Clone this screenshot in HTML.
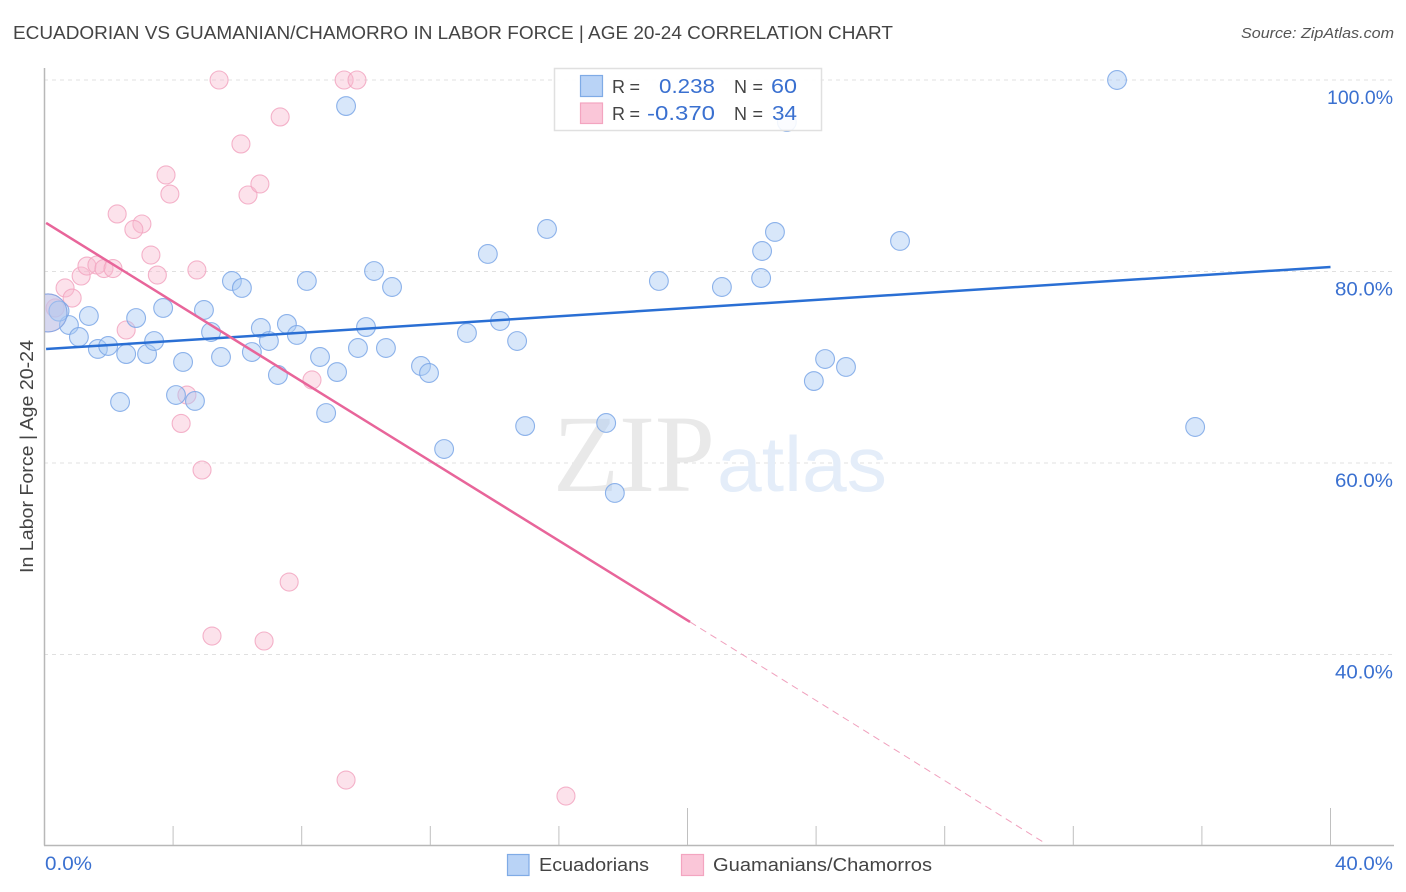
<!DOCTYPE html>
<html lang="en">
<head>
<meta charset="utf-8">
<title>Ecuadorian vs Guamanian/Chamorro in Labor Force | Age 20-24 Correlation Chart</title>
<style>
html,body{margin:0;padding:0;background:#fff;}
svg{display:block;font-family:"Liberation Sans",sans-serif;}
</style>
</head>
<body>
<svg id="chart" xmlns="http://www.w3.org/2000/svg" width="1406" height="892" viewBox="0 0 1406 892">
  <defs><clipPath id="plot-clip"><rect x="45" y="60" width="1350" height="785"/></clipPath></defs>
  <text x="13" y="39" font-size="18.5" fill="#444" textLength="880" lengthAdjust="spacingAndGlyphs">ECUADORIAN VS GUAMANIAN/CHAMORRO IN LABOR FORCE | AGE 20-24 CORRELATION CHART</text>
  <text x="1394" y="38" font-size="15" font-style="italic" fill="#555" text-anchor="end" textLength="153" lengthAdjust="spacingAndGlyphs">Source: ZipAtlas.com</text>
  <g id="grid"></g>
  <g>
    <text x="553" y="491" font-family="'Liberation Serif',serif" font-size="110" fill="#e9e9e9" textLength="162" lengthAdjust="spacingAndGlyphs">ZIP</text>
    <text x="717" y="491" font-size="78" fill="#e4edf9" textLength="170" lengthAdjust="spacingAndGlyphs">atlas</text>
  </g>
  <g id="axes">
    <line x1="44.5" y1="68" x2="44.5" y2="845.5" stroke="#b8b8b8" stroke-width="1.5"/>
    <line x1="44" y1="845.5" x2="1394" y2="845.5" stroke="#b8b8b8" stroke-width="1.5"/>
  </g>
  <g id="points" clip-path="url(#plot-clip)"></g>
  <g id="trends"></g>
  <g>
    <rect x="554.5" y="68.5" width="267" height="62" fill="#fff" fill-opacity="0.88" stroke="#e0e0e0" stroke-width="1.5"/>
    <rect x="580.5" y="75.5" width="22" height="21" fill="#b9d3f6" stroke="#7fabe6" stroke-width="1.2"/>
    <rect x="580.5" y="103" width="22" height="20.5" fill="#fac6d8" stroke="#f3a5c0" stroke-width="1.2"/>
    <text x="612" y="93" font-size="18" fill="#444" textLength="28">R =</text>
    <text x="715" y="93" font-size="20.5" fill="#3a70d0" text-anchor="end" textLength="56" lengthAdjust="spacingAndGlyphs">0.238</text>
    <text x="734" y="93" font-size="18" fill="#444" textLength="29">N =</text>
    <text x="797" y="93" font-size="20.5" fill="#3a70d0" text-anchor="end" textLength="26" lengthAdjust="spacingAndGlyphs">60</text>
    <text x="612" y="120" font-size="18" fill="#444" textLength="28">R =</text>
    <text x="715" y="120" font-size="20.5" fill="#3a70d0" text-anchor="end" textLength="68" lengthAdjust="spacingAndGlyphs">-0.370</text>
    <text x="734" y="120" font-size="18" fill="#444" textLength="29">N =</text>
    <text x="797" y="120" font-size="20.5" fill="#3a70d0" text-anchor="end" textLength="25" lengthAdjust="spacingAndGlyphs">34</text>
  </g>
  <text transform="translate(33,573) rotate(-90)" font-size="18.5" fill="#444" textLength="233" lengthAdjust="spacingAndGlyphs">In Labor Force | Age 20-24</text>
  <g id="labels"></g>
  <g>
    <rect x="507.5" y="854.5" width="21.5" height="21" fill="#b9d3f6" stroke="#7fabe6" stroke-width="1.2"/>
    <text x="539" y="871" font-size="18.5" fill="#444" textLength="110" lengthAdjust="spacingAndGlyphs">Ecuadorians</text>
    <rect x="681.5" y="854.5" width="22" height="21" fill="#fac6d8" stroke="#f3a5c0" stroke-width="1.2"/>
    <text x="713" y="871" font-size="18.5" fill="#444" textLength="219" lengthAdjust="spacingAndGlyphs">Guamanians/Chamorros</text>
  </g>
</svg>
<script>
const xTickValues = [0, 4, 8, 12, 16, 20, 24, 28, 32, 36, 40];
const xMajorTicks = [20, 40];
const xEndLabels = ['0.0%', '40.0%'];
const yTickValues = [100, 80, 60, 40];
const yTickLabels = ['100.0%', '80.0%', '60.0%', '40.0%'];

const ecuadorianX = [9.38,33.36,23.09,15.63,13.79,22.72,22.32,26.61,10.25,10.81,8.16,5.83,6.14,19.11,21.07,22.29,3.69,4.96,2.85,1.38,0.76,1.07,1.66,1.98,2.54,3.19,3.41,4.31,5.18,5.49,6.45,6.73,6.98,7.54,7.85,8.57,9.10,7.26,10.00,9.75,10.62,11.71,11.96,13.14,14.17,14.70,4.09,4.68,2.35,8.76,12.43,14.95,17.47,17.74,23.93,24.28,24.93,35.79,0.45,0.11];
const ecuadorianY = [97.28,100,95.61,84.44,81.83,84.13,82.14,83.19,80.05,78.38,79.01,79.01,78.28,79.01,78.38,79.32,76.19,75.98,75.14,75.35,74.41,73.16,71.91,72.22,71.38,71.38,72.74,70.55,73.68,71.07,71.59,74.10,72.74,74.52,73.37,71.07,69.50,69.19,74.20,72.01,72.01,70.13,69.40,73.58,74.83,72.74,67.10,66.48,66.37,65.22,61.46,63.86,64.18,56.87,68.56,70.86,70.03,63.76,75.87,75.67];
const ecuadorianSize = [9.4,9.4,9.4,9.4,9.4,9.4,9.4,9.4,9.4,9.4,9.4,9.4,9.4,9.4,9.4,9.4,9.4,9.4,9.4,9.4,9.4,9.4,9.4,9.4,9.4,9.4,9.4,9.4,9.4,9.4,9.4,9.4,9.4,9.4,9.4,9.4,9.4,9.4,9.4,9.4,9.4,9.4,9.4,9.4,9.4,9.4,9.4,9.4,9.4,9.4,9.4,9.4,9.4,9.4,9.4,9.4,9.4,9.4,10,19];

const guamanianX = [5.43,9.32,9.72,7.33,6.11,3.78,3.90,6.33,6.70,2.26,3.03,2.78,3.31,3.51,4.74,1.14,1.32,1.63,1.85,2.13,0.64,0.86,2.54,8.32,4.43,4.25,4.90,7.61,5.21,6.83,9.38,16.22,0.33,0.11];
const guamanianY = [100,100,100,96.14,93.32,90.08,88.09,87.99,89.14,86.01,84.96,84.39,81.72,79.63,80.16,79.53,80.57,80.68,80.31,80.31,78.28,77.23,73.89,68.67,67.10,64.13,59.27,47.57,41.93,41.41,26.89,25.22,76.19,75.67];
const guamanianSize = [9,9,9,9,9,9,9,9,9,9,9,9,9,9,9,9,9,9,9,9,9,9,9,9,9,9,9,9,9,9,9,9,9,19];

const ecuadorianTrendX = [0.05, 40];
const ecuadorianTrendY = [71.9, 80.47];
const guamanianTrendX = [0.05, 20.08];
const guamanianTrendY = [85.07, 43.4];
const guamanianDashX = [20.08, 31.06];
const guamanianDashY = [43.4, 20.42];

const xScale = v => 44.5 + v * 32.15;
const yScale = v => 80 + (100 - v) * 9.575;
const NS = 'http://www.w3.org/2000/svg';

function make(tag, parent, attrs) {
  const el = document.createElementNS(NS, tag);
  for (const k in attrs) el.setAttribute(k, attrs[k]);
  parent.appendChild(el);
  return el;
}

const grid = document.getElementById('grid');
const axes = document.getElementById('axes');
const labels = document.getElementById('labels');
const points = document.getElementById('points');
const trends = document.getElementById('trends');

yTickValues.forEach((v, i) => {
  const line = make('line', grid, {x1: 44, x2: 1394, y1: yScale(v), y2: yScale(v), stroke: '#e0e0e0', 'stroke-width': 1, 'stroke-dasharray': '4 4'});
  
  
  const t = make('text', labels, {x: 1393, y: yScale(v) + 24, 'text-anchor': 'end', 'font-size': 19.5, fill: '#3a70d0', textLength: yTickLabels[i].length > 5 ? 66 : 58, lengthAdjust: 'spacingAndGlyphs'});
  t.textContent = yTickLabels[i];
  
  
});

xTickValues.slice(1).forEach(v => {
  const top = xMajorTicks.includes(v) ? 808 : 826;
  const tick = make('line', axes, {x1: xScale(v), x2: xScale(v), y1: top, y2: 845, stroke: '#c0c0c0', 'stroke-width': 1});
  
  
});

const xLabelStart = make('text', labels, {x: 45, y: 870, 'font-size': 19.5, fill: '#3a70d0', textLength: 47, lengthAdjust: 'spacingAndGlyphs'});
xLabelStart.textContent = xEndLabels[0];


const xLabelEnd = make('text', labels, {x: 1393, y: 870, 'text-anchor': 'end', 'font-size': 19.5, fill: '#3a70d0', textLength: 58, lengthAdjust: 'spacingAndGlyphs'});
xLabelEnd.textContent = xEndLabels[1];



guamanianX.forEach((x, i) => {
  const c = make('circle', points, {cx: xScale(x), cy: yScale(guamanianY[i]), r: guamanianSize[i], fill: '#f9b9cf', 'fill-opacity': 0.42, stroke: '#f2a6c1', 'stroke-width': 1.1, 'stroke-opacity': 0.85});
  
  
});
ecuadorianX.forEach((x, i) => {
  const c = make('circle', points, {cx: xScale(x), cy: yScale(ecuadorianY[i]), r: ecuadorianSize[i], fill: '#a9c9f5', 'fill-opacity': 0.45, stroke: '#7aa6e6', 'stroke-width': 1.1, 'stroke-opacity': 0.85});
  
  
});

const blueTrend = make('line', trends, {x1: xScale(ecuadorianTrendX[0]), y1: yScale(ecuadorianTrendY[0]), x2: xScale(ecuadorianTrendX[1]), y2: yScale(ecuadorianTrendY[1]), stroke: '#2a6fd4', 'stroke-width': 2.5});


const pinkTrend = make('line', trends, {x1: xScale(guamanianTrendX[0]), y1: yScale(guamanianTrendY[0]), x2: xScale(guamanianTrendX[1]), y2: yScale(guamanianTrendY[1]), stroke: '#e8659a', 'stroke-width': 2.5});


const pinkDash = make('line', trends, {x1: xScale(guamanianDashX[0]), y1: yScale(guamanianDashY[0]), x2: xScale(guamanianDashX[1]), y2: yScale(guamanianDashY[1]), stroke: '#f0a0bd', 'stroke-width': 1, 'stroke-dasharray': '7 5'});


</script>
</body>
</html>
